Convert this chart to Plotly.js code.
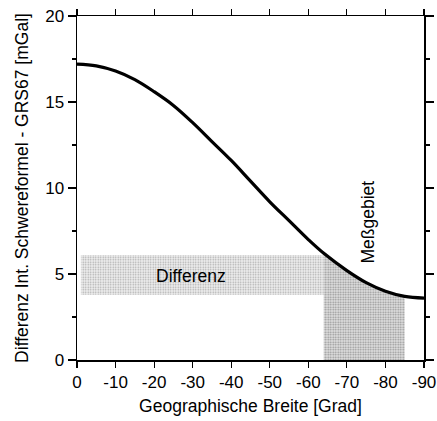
<!DOCTYPE html>
<html>
<head>
<meta charset="utf-8">
<script src="https://cdn.plot.ly/plotly-3.0.1.min.js"></script>
<style>html,body{margin:0;padding:0;background:#fff;}#chart{width:437px;height:421px;}</style>
</head>
<body>
<div id="chart"></div>
<script>
// Geographic latitude (degrees) and difference Int. gravity formula - GRS67 (mGal)
const latitude = [0, -5, -10, -15, -20, -25, -30, -35, -40, -45, -50, -55, -60, -64, -70, -75, -80, -85, -90];
const diffMgal = [17.2, 17.1, 16.8, 16.3, 15.6, 14.8, 13.8, 12.7, 11.6, 10.4, 9.2, 8.1, 7.0, 6.2, 5.2, 4.5, 4.0, 3.7, 3.6];

// "Differenz" band (latitude span and value span)
const bandLat = [-1, -64];
const bandVal = [3.8, 6.1];

// "Meßgebiet" latitude span
const areaLat = [-64, -85];

const xTickVals = [0, -10, -20, -30, -40, -50, -60, -70, -80, -90];
const xTickText = ['0', '-10', '-20', '-30', '-40', '-50', '-60', '-70', '-80', '-90'];
const yTickVals = [0, 5, 10, 15, 20];
const yTickText = ['0', '5', '10', '15', '20'];

const areaX = [], areaY = [];
latitude.forEach((v, i) => { if (v <= areaLat[0] && v >= areaLat[1]) { areaX.push(v); areaY.push(diffMgal[i]); } });

const traces = [
  {
    x: [bandLat[0], bandLat[1], bandLat[1], bandLat[0], bandLat[0]],
    y: [bandVal[0], bandVal[0], bandVal[1], bandVal[1], bandVal[0]],
    type: 'scatter', mode: 'lines', fill: 'toself',
    line: {width: 0, color: 'rgba(0,0,0,0)'},
    fillcolor: '#ffffff',
    fillpattern: {shape: '.', fgcolor: '#a8a8a8', bgcolor: '#f0f0f0', size: 2.5, solidity: 0.3},
    hoverinfo: 'skip', showlegend: false
  },
  {
    x: areaX, y: areaY,
    type: 'scatter', mode: 'lines', fill: 'tozeroy',
    line: {width: 0, color: 'rgba(0,0,0,0)', shape: 'spline'},
    fillcolor: '#ffffff',
    fillpattern: {shape: '.', fgcolor: '#909090', bgcolor: '#e2e2e2', size: 2.5, solidity: 0.4},
    hoverinfo: 'skip', showlegend: false
  },
  {
    x: latitude, y: diffMgal,
    type: 'scatter', mode: 'lines',
    line: {color: '#000000', width: 3.2, shape: 'spline', smoothing: 1},
    showlegend: false
  }
];

const font = {family: '"Liberation Sans", Arial, Helvetica, sans-serif', size: 18, color: '#000'};

const layout = {
  width: 437, height: 421,
  margin: {l: 77, r: 13, t: 16, b: 61},
  paper_bgcolor: '#fff', plot_bgcolor: '#fff',
  font: font,
  showlegend: false,
  xaxis: {
    range: [0, -90], autorange: false,
    tickmode: 'array', tickvals: xTickVals, ticktext: xTickText,
    ticks: 'outside', ticklen: 6, tickwidth: 1.2, tickcolor: '#000',
    showline: true, linecolor: '#000', linewidth: 1.5, mirror: 'ticks',
    showgrid: false, zeroline: false,
    tickfont: {size: 17},
    title: {text: 'Geographische Breite [Grad]', font: {size: 17.5}, standoff: 9}
  },
  yaxis: {
    range: [0, 20], autorange: false,
    tickmode: 'array', tickvals: yTickVals, ticktext: yTickText,
    ticks: 'outside', ticklen: 8, tickwidth: 1.2, tickcolor: '#000',
    minor: {dtick: 2.5, ticks: 'outside', ticklen: 4, tickwidth: 1.2, tickcolor: '#000', showgrid: false},
    showline: true, linecolor: '#000', linewidth: 1.5, mirror: 'ticks',
    showgrid: false, zeroline: false,
    tickfont: {size: 17},
    title: {text: 'Differenz Int. Schwereformel - GRS67 [mGal]', font: {size: 17.5}, standoff: 12}
  },
  annotations: [
    {x: -29.5, y: 4.9, xref: 'x', yref: 'y', text: 'Differenz', showarrow: false,
     font: {size: 17.5, color: '#000'}},
    {x: -75.5, y: 8.0, xref: 'x', yref: 'y', text: 'Meßgebiet', showarrow: false, textangle: -90,
     font: {size: 17.5, color: '#000'}}
  ]
};

Plotly.newPlot('chart', traces, layout, {displayModeBar: false, staticPlot: true});
</script>
</body>
</html>
